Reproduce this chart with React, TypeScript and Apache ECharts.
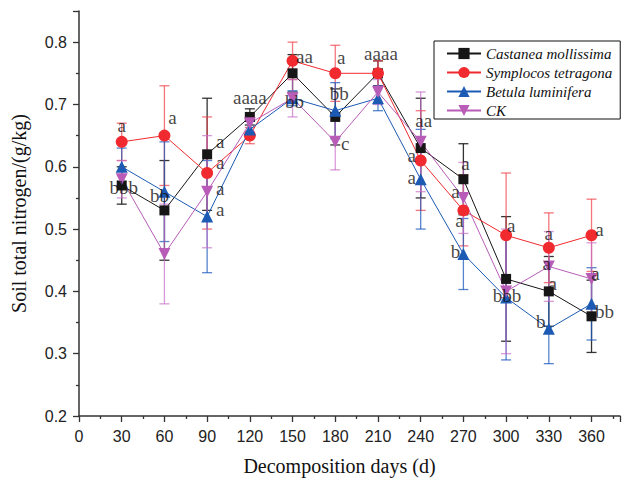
import React, { useEffect, useRef } from 'react';
import * as echarts from 'echarts';

const days = [30, 60, 90, 120, 150, 180, 210, 240, 270, 300, 330, 360];
const seriesNames = ['Castanea mollissima', 'Symplocos tetragona', 'Betula luminifera', 'CK'];

const castanea = [0.57, 0.53, 0.62, 0.68, 0.75, 0.68, 0.75, 0.63, 0.58, 0.42, 0.40, 0.36];
const symplocos = [0.64, 0.65, 0.59, 0.65, 0.77, 0.75, 0.75, 0.61, 0.53, 0.49, 0.47, 0.49];
const betula = [0.60, 0.56, 0.52, 0.66, 0.71, 0.69, 0.71, 0.58, 0.46, 0.39, 0.34, 0.38];
const ck = [0.58, 0.46, 0.56, 0.67, 0.71, 0.64, 0.72, 0.64, 0.55, 0.40, 0.44, 0.42];

const castaneaErr = [0.03, 0.08, 0.09, 0.013, 0.03, 0.045, 0.02, 0.08, 0.057, 0.10, 0.056, 0.058];
const symplocosErr = [0.03, 0.08, 0.09, 0.013, 0.03, 0.045, 0.02, 0.08, 0.057, 0.10, 0.056, 0.058];
const betulaErr = [0.03, 0.08, 0.09, 0.013, 0.012, 0.045, 0.02, 0.08, 0.057, 0.10, 0.056, 0.058];
const ckErr = [0.03, 0.08, 0.09, 0.013, 0.03, 0.045, 0.02, 0.08, 0.057, 0.10, 0.056, 0.058];

const xTicks = [0, 30, 60, 90, 120, 150, 180, 210, 240, 270, 300, 330, 360];
const yTicks = [0.2, 0.3, 0.4, 0.5, 0.6, 0.7, 0.8];

// significance letters: day, series index (anchor), text
const letterDays = [30, 30, 60, 60, 90, 90, 90, 90, 120, 150, 150, 180, 180, 180, 210, 240, 240, 240, 270, 270, 270, 270, 300, 300, 330, 330, 330, 330, 360, 360, 360];
const letterSeries = [1, 0, 1, 0, 0, 1, 3, 2, 0, 1, 2, 1, 2, 3, 1, 3, 1, 2, 0, 3, 1, 2, 1, 3, 1, 3, 0, 2, 1, 3, 0];
const letterTexts = ['a', 'bbb', 'a', 'bb', 'a', 'a', 'a', 'a', 'aaaa', 'aa', 'bb', 'a', 'bb', 'c', 'aaaa', 'aa', 'a', 'a', 'a', 'a', 'a', 'b', 'a', 'bbb', 'a', 'a', 'a', 'b', 'a', 'a', 'bb'];

// layout: label offsets in px relative to anchor point
const letterOffsets = [
  [0, -16], [2, 2], [8, -18], [-5, -15], [13, -13], [13, -11], [13, -3], [13, -7], [0, -19], [12, -4], [2, 3],
  [6, -16], [4, -17], [10, 2], [3, -20], [3, -21], [-9, -5], [-9, -2], [2, -16], [-8, -6], [-4, 10], [-8, -3],
  [5, -10], [1, 4], [0, -14], [-2, -3], [4, -8], [-8, -7], [8, -6], [4, -5], [13, -5],
];

const values = [castanea, symplocos, betula, ck];
const errs = [castaneaErr, symplocosErr, betulaErr, ckErr];
const colors = ['#161616', '#f02a2e', '#1c5ab4', '#b85cb8'];
const errColors = ['rgba(30,30,30,0.9)', 'rgba(240,60,70,0.7)', 'rgba(30,90,190,0.75)', 'rgba(200,110,200,0.7)'];
const symbols = ['rect', 'circle', 'triangle', 'triangle'];
const symbolSizes = [10, 12, 12, 12];
const symbolRotates = [0, 0, 0, 180];

export default function App() {
  const ref = useRef<HTMLDivElement>(null);
  useEffect(() => {
    if (!ref.current) return;
    const chart = echarts.init(ref.current, null, { renderer: 'svg' });
    const serif = '"Liberation Serif", "Times New Roman", serif';
    const sans = '"Liberation Sans", Arial, sans-serif';

    const lineSeries = seriesNames.map((name, i) => ({
      name,
      type: 'line',
      data: days.map((d, k) => [d, values[i][k]]),
      symbol: symbols[i],
      symbolSize: symbolSizes[i],
      symbolRotate: symbolRotates[i],
      lineStyle: { color: colors[i], width: 1 },
      itemStyle: { color: colors[i] },
      z: 3,
    }));

    const errSeries = seriesNames.map((name, i) => ({
      name: 'err' + i,
      type: 'custom',
      data: days.map((d, k) => [d, values[i][k] - errs[i][k], values[i][k] + errs[i][k]]),
      encode: { x: 0, y: [1, 2] },
      z: 2,
      silent: true,
      renderItem: (params: any, api: any) => {
        const x = api.value(0);
        const lo = api.coord([x, api.value(1)]);
        const hi = api.coord([x, api.value(2)]);
        const w = 5;
        const st = { stroke: errColors[i], lineWidth: 1.3 };
        return {
          type: 'group',
          children: [
            { type: 'line', shape: { x1: lo[0], y1: lo[1], x2: hi[0], y2: hi[1] }, style: st },
            { type: 'line', shape: { x1: lo[0] - w, y1: lo[1], x2: lo[0] + w, y2: lo[1] }, style: st },
            { type: 'line', shape: { x1: hi[0] - w, y1: hi[1], x2: hi[0] + w, y2: hi[1] }, style: st },
          ],
        };
      },
    }));

    const letterSeriesObj = {
      name: 'letters',
      type: 'scatter',
      symbolSize: 1,
      silent: true,
      z: 5,
      itemStyle: { color: 'transparent' },
      data: letterTexts.map((t, j) => {
        const k = days.indexOf(letterDays[j]);
        return {
          value: [letterDays[j], values[letterSeries[j]][k]],
          label: {
            show: true,
            position: 'inside',
            formatter: t,
            offset: letterOffsets[j],
            fontFamily: serif,
            fontSize: 19,
            lineHeight: 13,
            color: '#111',
          },
        };
      }),
    };

    chart.setOption({
      animation: false,
      backgroundColor: '#fff',
      grid: { left: 79, right: 1, top: 11, bottom: 65, containLabel: false },
      legend: {
        data: seriesNames,
        orient: 'vertical',
        left: 434,
        top: 41,
        width: 185,
        padding: [5, 8, 1, 12],
        itemGap: 4,
        itemWidth: 34,
        itemHeight: 14,
        borderColor: '#111',
        borderWidth: 1,
        backgroundColor: '#fff',
        textStyle: { fontFamily: serif, fontStyle: 'italic', fontSize: 15, lineHeight: 15, color: '#111' },
      },
      xAxis: {
        type: 'value',
        min: 0,
        max: 380,
        interval: 30,
        name: 'Decomposition days (d)',
        nameLocation: 'middle',
        nameGap: 40,
        nameTextStyle: { fontFamily: serif, fontSize: 20, color: '#111', padding: [0, 20, 0, 0] },
        axisLine: { show: true, lineStyle: { color: '#333', width: 1.5 } },
        axisTick: { show: true, length: 6, lineStyle: { color: '#333', width: 1.3 } },
        minorTick: { show: true, splitNumber: 2, length: 3, lineStyle: { color: '#333', width: 1.3 } },
        splitLine: { show: false },
        axisLabel: {
          margin: 12,
          fontFamily: sans,
          fontSize: 16,
          color: '#222',
          formatter: (v: number) => (xTicks.includes(v) ? String(v) : ''),
        },
      },
      yAxis: {
        type: 'value',
        min: 0.2,
        max: 0.85,
        interval: 0.1,
        name: 'Soil total nitrogen/(g/kg)',
        nameLocation: 'middle',
        nameGap: 50,
        nameTextStyle: { fontFamily: serif, fontSize: 20, color: '#111' },
        axisLine: { show: true, lineStyle: { color: '#333', width: 1.5 } },
        axisTick: { show: true, length: 6, lineStyle: { color: '#333', width: 1.3 } },
        minorTick: { show: true, splitNumber: 2, length: 3, lineStyle: { color: '#333', width: 1.3 } },
        splitLine: { show: false },
        axisLabel: {
          margin: 12,
          fontFamily: sans,
          fontSize: 16,
          color: '#222',
          formatter: (v: number) => {
            const m = yTicks.find((t) => Math.abs(t - v) < 1e-6);
            return m !== undefined ? m.toFixed(1) : '';
          },
        },
      },
      series: [...errSeries, ...lineSeries, letterSeriesObj],
    });
    return () => chart.dispose();
  }, []);
  return <div ref={ref} style={{ position: 'fixed', left: 0, top: 0, width: 623, height: 481 }} />;
}
